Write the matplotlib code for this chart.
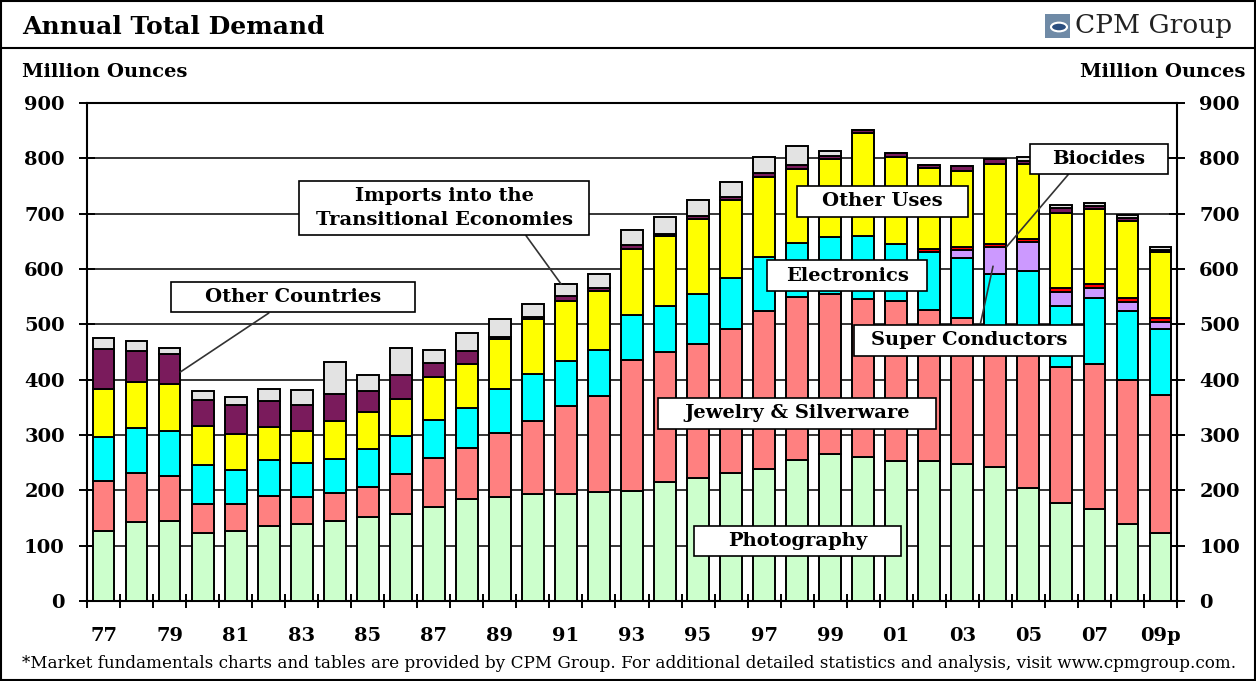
import numpy as np
import matplotlib
matplotlib.use("Agg")
import matplotlib.pyplot as plt
from matplotlib.path import Path
from matplotlib.patches import Rectangle, Circle
from matplotlib.lines import Line2D

# years 1977 .. 2009p
years = list(range(1977, 2010))
tick_labels = ["77", "79", "81", "83", "85", "87", "89", "91", "93", "95",
               "97", "99", "01", "03", "05", "07", "09p"]

# million ounces
photography = [127, 142, 145, 122, 127, 136, 139, 145, 151, 157, 169, 185, 188, 194, 194, 197, 199,
               215, 222, 231, 239, 254, 266, 260, 253, 253, 248, 243, 205, 178, 166, 139, 122]
jewelry = [90, 90, 81, 54, 49, 54, 49, 50, 55, 73, 89, 92, 115, 131, 158, 174, 236,
           235, 243, 260, 285, 296, 289, 286, 289, 273, 264, 238, 272, 244, 263, 260, 250]
electronics = [80, 80, 81, 69, 61, 64, 61, 62, 69, 69, 69, 72, 80, 85, 82, 82, 81,
               83, 89, 92, 98, 97, 102, 114, 103, 105, 107, 110, 120, 112, 119, 125, 119]
super_conductors = [0, 0, 0, 0, 0, 0, 0, 0, 0, 0, 0, 0, 0, 0, 0, 0, 0,
                    0, 0, 0, 0, 0, 0, 0, 0, 0, 16, 49, 52, 24, 17, 17, 13]
biocides = [0, 0, 0, 0, 0, 0, 0, 0, 0, 0, 0, 0, 0, 0, 0, 0, 0,
            0, 0, 0, 0, 0, 0, 0, 0, 6, 5, 6, 6, 8, 7, 7, 7]
other_uses = [86, 84, 85, 71, 65, 60, 59, 69, 66, 66, 77, 79, 90, 99, 108, 108, 121,
              127, 136, 142, 144, 134, 141, 185, 157, 145, 138, 144, 134, 136, 136, 139, 119]
other_countries = [73, 56, 54, 47, 52, 47, 46, 49, 38, 43, 27, 24, 4, 5, 9, 5, 6,
                   4, 5, 6, 8, 7, 7, 7, 8, 6, 9, 9, 7, 8, 6, 6, 5]
imports = [19, 17, 11, 16, 15, 23, 27, 57, 29, 49, 23, 33, 33, 22, 21, 25, 27,
           30, 29, 26, 28, 34, 9, 0, 0, 0, 0, 0, 7, 5, 6, 5, 5]

series = [photography, jewelry, electronics, super_conductors, biocides,
          other_uses, other_countries, imports]
colors = ["#CCFFCC", "#FF8080", "#00FFFF", "#CC99FF", "#FF0000",
          "#FFFF00", "#7A1B5C", "#E3E3E3"]

W, H = 1256, 681
serif = "DejaVu Serif"
plt.rcParams["font.family"] = serif

fig = plt.figure(figsize=(W / 100, H / 100), dpi=100)
ax = fig.add_axes([87 / W, 1 - 601 / H, 1090 / W, 498 / H])

x = np.arange(len(years))
bottom = np.zeros(len(x))
for vals, col in zip(series, colors):
    vals = np.array(vals, dtype=float)
    ax.bar(x, vals, 0.66, bottom=bottom, color=col, edgecolor="black",
           linewidth=1.4, zorder=3)
    bottom += vals

ax.set_xlim(-0.5, len(x) - 0.5)
ax.set_ylim(0, 900)
ax.set_yticks(np.arange(0, 901, 100))
ax.yaxis.grid(True, color="black", linewidth=1.1)
ax.set_axisbelow(True)
for s in ax.spines.values():
    s.set_linewidth(1.5)

ax.set_xticks(x[::2])
ax.set_xticklabels(tick_labels, fontweight="bold", fontsize=14)
ax.set_xticks(np.arange(-0.5, len(x), 1), minor=True)
ax.tick_params(axis="x", which="major", length=0, pad=19)
ax.tick_params(axis="x", which="minor", direction="inout", length=10, width=1.4)
ax.tick_params(axis="y", direction="inout", length=12, width=1.4, left=True, right=True,
               labelleft=True, labelright=True, labelsize=14, pad=10)
for lab in ax.get_yticklabels():
    lab.set_fontweight("bold")


def box(px, py=0.32):
    def style(x0, y0, w, h, mutation_size):
        dx, dy = px * mutation_size, py * mutation_size
        a, b, c, d = x0 - dx, y0 - dy, x0 + w + dx, y0 + h + dy
        return Path([(a, b), (c, b), (c, d), (a, d), (a, b)], closed=True)
    return style


notes = [
    ("Other Countries", (5.74, 549), (2.33, 414), 1.75, (0.42, 0)),
    ("Imports into the\nTransitional Economies", (10.31, 710), (13.85, 573), 0.85, (0.8, 0)),
    ("Other Uses", (23.58, 722), None, 1.3, None),
    ("Electronics", (22.52, 588), None, 0.95, None),
    ("Super Conductors", (26.2, 471), (26.93, 605), 0.85, (0.55, 1)),
    ("Biocides", (30.14, 799), (27.34, 640), 1.15, (0.23, 0)),
    ("Jewelry & Silverware", (21.0, 339), None, 1.35, None),
    ("Photography", (21.01, 108), None, 1.75, None),
]
for text, pos, target, px, rel in notes:
    bb = dict(boxstyle=box(px), fc="white", ec="black", lw=1.2)
    if target is None:
        ax.text(*pos, text, ha="center", va="center", fontsize=14, fontweight="bold",
                bbox=bb, zorder=5)
    else:
        ax.annotate(text, xy=target, xytext=pos, ha="center", va="center",
                    fontsize=14, fontweight="bold", bbox=bb, zorder=5, linespacing=1.4,
                    arrowprops=dict(arrowstyle="-", color="#333333", lw=1.2,
                                    relpos=rel, shrinkA=0, shrinkB=0))

# header, labels and frame
fig.text(22 / W, 1 - 27 / H, "Annual Total Demand", fontsize=18, fontweight="bold",
         va="center", ha="left")
fig.add_artist(Rectangle((1045 / W, 1 - 38 / H), 25 / W, 24 / H, transform=fig.transFigure,
                         fc="#6f8aa6", ec="none"))
fig.add_artist(Circle((1059 / W, 1 - 27 / H), 8 / W, transform=fig.transFigure,
                      fc="#2c4f80", ec="white", lw=1.5))
fig.text(1232 / W, 1 - 26 / H, "CPM Group", fontsize=19,
         va="center", ha="right", color="#222222")
fig.add_artist(Line2D([0, 1], [1 - 48 / H] * 2, transform=fig.transFigure, color="black", lw=1.5))
fig.text(22 / W, 1 - 72 / H, "Million Ounces", fontsize=14, fontweight="bold",
         va="center", ha="left")
fig.text(1245 / W, 1 - 72 / H, "Million Ounces", fontsize=14, fontweight="bold",
         va="center", ha="right")
fig.text(22 / W, 1 - 663 / H,
         "*Market fundamentals charts and tables are provided by CPM Group. For additional "
         "detailed statistics and analysis, visit www.cpmgroup.com.",
         fontsize=12.1, va="center", ha="left")
fig.add_artist(Rectangle((0.001, 0.002), 0.998, 0.996, transform=fig.transFigure,
                         fill=False, ec="black", lw=1.5))

fig.savefig("out.png", dpi=100)
